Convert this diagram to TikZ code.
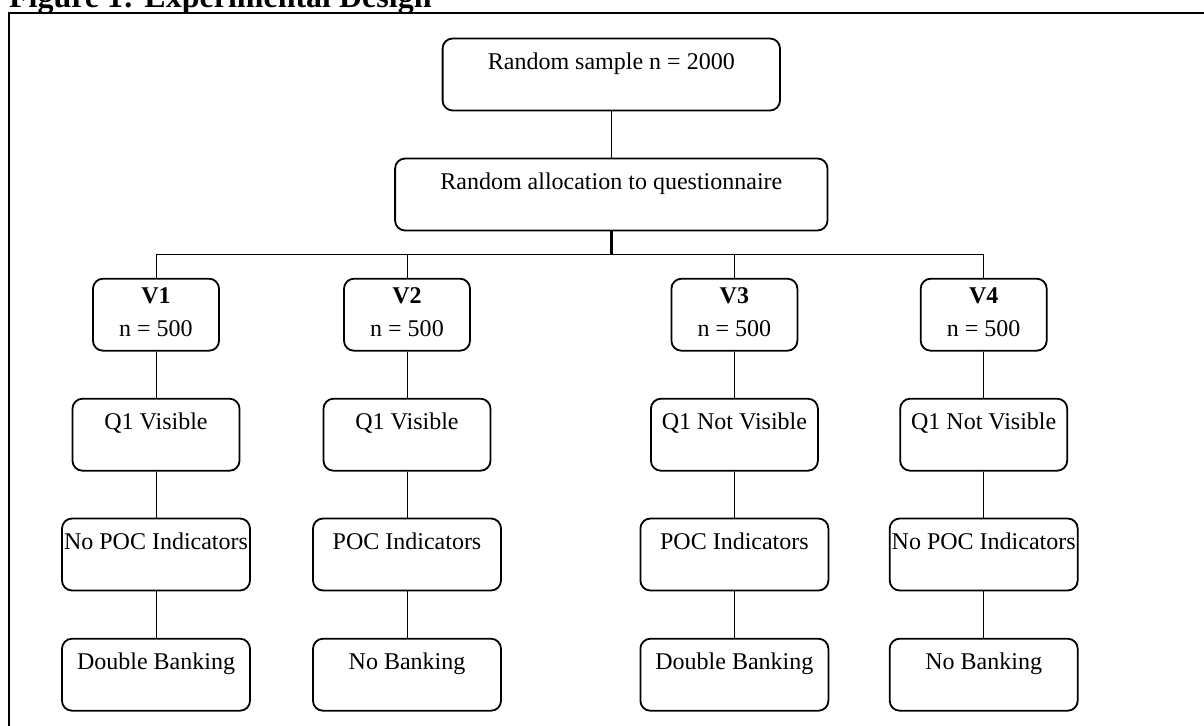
\documentclass[tikz,border=0pt]{standalone}
\usepackage{fontspec}
\setmainfont{Liberation Serif}
\begin{document}
\begin{tikzpicture}[x=0.5pt,y=-0.5pt,
  box/.style={draw, line width=0.9pt, rounded corners=5pt, inner sep=0pt,
    minimum height=36pt, text height=15.5pt, text depth=20.5pt, align=center,
    font=\fontsize{12}{14.4}\selectfont},
  vbox/.style={box, minimum width=63pt, text height=29pt, text depth=7pt,
    font=\fontsize{12}{16.7}\selectfont},
  qbox/.style={box, minimum width=83.5pt},
  pbox/.style={box, minimum width=94pt},
  link/.style={line width=0.5pt}]
\useasboundingbox (0,0) rectangle (1204,725);
%\draw [lightgray](0,0) grid[step=100] (1204,725);
\begin{scope}
\clip (0,0) rectangle (1204,725);
\draw [line width=1pt](9,13) rectangle (1230,760);
\end{scope}
\node [anchor=base west, font=\bfseries\fontsize{16}{19}\selectfont] (title) at (2,7.5){Figure 1: Experimental Design};

\node [box, minimum width=168.7pt] (sample) at (611.3, 74.5){Random sample n = 2000};
\node [box, minimum width=216.2pt] (alloc) at (611.3,194.5){Random allocation to questionnaire};
\coordinate (bus) at (611.3,254.3);

\node [vbox] (v1) at (156.0,314.7){\textbf{V1}\\n = 500};
\node [vbox] (v2) at (407.0,314.7){\textbf{V2}\\n = 500};
\node [vbox] (v3) at (734.4,314.7){\textbf{V3}\\n = 500};
\node [vbox] (v4) at (983.7,314.7){\textbf{V4}\\n = 500};

\node [qbox] (q1) at (156.0,434.7){Q1 Visible};
\node [qbox] (q2) at (407.0,434.7){Q1 Visible};
\node [qbox] (q3) at (734.4,434.7){Q1 Not Visible};
\node [qbox] (q4) at (983.7,434.7){Q1 Not Visible};

\node [pbox] (p1) at (156.0,554.5){No POC Indicators};
\node [pbox] (p2) at (407.0,554.5){POC Indicators};
\node [pbox] (p3) at (734.4,554.5){POC Indicators};
\node [pbox] (p4) at (983.7,554.5){No POC Indicators};

\node [pbox] (b1) at (156.0,674.7){Double Banking};
\node [pbox] (b2) at (407.0,674.7){No Banking};
\node [pbox] (b3) at (734.4,674.7){Double Banking};
\node [pbox] (b4) at (983.7,674.7){No Banking};

\draw [link](sample) -- (alloc);
\draw [line width=1.3pt](alloc) -- (bus);
\draw [link](v1.north) |- (bus) -| (v4.north);
\draw [link](v2.north) -- (v2.north |- bus);
\draw [link](v3.north) -- (v3.north |- bus);

\draw [link](v1) -- (q1) -- (p1) -- (b1);
\draw [link](v2) -- (q2) -- (p2) -- (b2);
\draw [link](v3) -- (q3) -- (p3) -- (b3);
\draw [link](v4) -- (q4) -- (p4) -- (b4);
\end{tikzpicture}
\end{document}
